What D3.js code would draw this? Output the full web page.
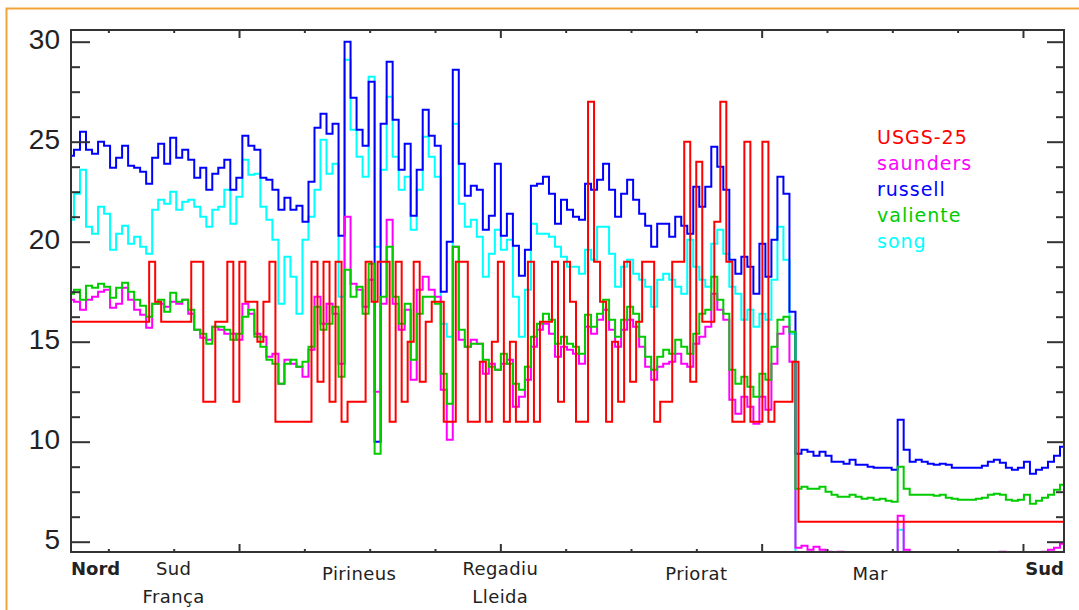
<!DOCTYPE html>
<html>
<head>
<meta charset="utf-8">
<script src="https://cdn.jsdelivr.net/npm/d3@7"></script>
<style>
  body { margin: 0; background: #fff; }
  svg text { fill: #222; }
</style>
</head>
<body>
<svg id="chart" width="1079" height="610"></svg>
<script>
// samples along the transect (one every ~6 px)
const usgs = [
  16,16,16,16,16,16,16,16,16,16,16,16,16,19,17,16,16,16,16,16,19,19,12,12,16,16,19,12,19,17,17,15,17,19,11,11,11,11,11,
  11,19,13,19,12,19,11,12,12,12,19,17,19,19,11,19,12,15,19,13,16,17,17,11,11,19,19,11,11,14,11,15,19,11,15,11,11,19,11,16,
  16,19,12,19,17,11,11,27,19,17,11,15,12,19,13,16,19,19,11,12,12,19,19,25,13,24,16,16,21,27,19,11,11,25,11,11,25,11,12,12,12,14,
  6,6,6,6,6,6,6,6,6,6,6,6,6,6,6,6,6,6,6,6,6,6,6,6,6,6,6,6,6,6,6,6,6,6,6,6,6,6,6,6,6,6,6,6,6
];
const saunders = [
  17.1,17.0,16.6,17.1,17.25,17.5,17.6,16.7,16.9,17.7,17.1,16.6,16.35,15.7,16.9,16.9,16.75,17.0,16.9,17.1,16.4,15.6,15.2,15.1,15.75,15.6,15.4,15.4,15.1,16.9,16.4,15.4,15.25,14.25,14.4,12.9,14.1,13.9,13.75,
  13.25,14.6,17.25,15.9,16.9,16.4,13.9,21.25,17.9,17.6,16.75,18.1,12.5,16.9,21.1,16.9,15.6,16.6,13.1,17.6,18.25,17.6,17.25,12.6,10.1,19.75,15.1,14.75,15.1,14.9,13.4,13.9,13.6,13.9,14.1,11.75,12.25,13.1,14.75,15.6,
  15.9,15.4,14.25,14.75,14.6,14.4,13.9,15.75,15.4,16.1,16.6,15.6,14.75,15.6,16.1,15.75,14.75,13.75,13.1,13.75,13.9,14.0,14.4,13.9,13.75,14.9,15.25,15.75,17.4,16.6,16.1,12.1,11.4,12.25,11.75,10.9,12.25,11.6,13.9,15.4,15.75,14.0,
  4.7,4.8,4.6,4.75,4.6, 4.5,4.4,4.5,4.3,4.3, 4.3,4.2,4.3,4.3,4.3, 4.3,4.4,6.3,4.6,4.4, 4.3,4.3,4.3,4.2,4.3,
  4.3,4.3,4.3,4.3,4.3, 4.3,4.2,4.3,4.4,4.5, 4.3,4.3,4.3,4.2,4.3, 4.4,4.5,4.6,4.7,4.9
];
const russell = [
  24.3,24.6,25.5,24.6,24.4,25.0,24.8,23.7,24.2,24.8,23.8,23.7,23.5,22.9,24.2,24.9,23.9,25.2,24.2,24.6,24.1,23.2,23.7,22.6,23.4,23.7,24.1,22.6,23.2,25.3,24.8,24.6,23.2,23.1,22.6,21.6,22.2,21.6,21.8,
  21.0,23.0,25.7,26.4,25.4,25.9,20.3,30.0,27.2,25.6,24.8,28.0,10.0,25.9,29.0,26.1,23.6,24.9,21.3,23.6,26.6,25.3,24.8,17.5,20.0,28.6,23.9,22.3,22.8,22.6,20.6,21.3,23.9,20.3,21.4,19.8,18.3,19.6,22.8,22.9,
  23.25,22.4,20.9,22.1,21.6,21.25,21.1,22.9,22.6,23.1,23.9,22.6,21.25,22.4,23.1,22.1,21.4,20.8,19.75,20.9,20.9,20.25,21.25,20.8,20.4,22.75,21.75,22.75,24.75,23.75,22.6,19.1,18.4,19.25,18.75,17.4,19.9,18.25,20.1,23.25,22.4,16.5,
  9.4,9.6,9.5,9.3,9.5, 9.3,9.0,9.0,8.9,9.1, 8.85,8.85,8.75,8.7,8.7, 8.7,8.6,11.1,9.6,9.0, 9.1,9.0,8.9,8.85,8.9,
  8.85,8.7,8.7,8.7,8.7, 8.7,8.8,9.0,9.1,8.95, 8.7,8.6,8.7,9.0,8.4, 8.6,8.7,9.0,9.3,9.75
];
const valiente = [
  17.4,17.6,17.1,17.8,17.7,17.9,17.75,17.2,17.7,17.95,17.5,17.1,16.8,16.25,16.9,17.1,16.5,17.45,17.0,17.1,16.6,15.6,15.4,14.9,15.75,15.75,15.6,15.1,15.4,16.25,16.6,15.25,14.75,14.1,13.9,12.9,13.9,14.1,13.75,
  14.0,14.75,16.75,15.6,15.9,16.75,13.25,18.6,17.25,17.75,16.4,18.9,9.4,17.25,19.75,17.25,15.9,16.9,14.1,16.4,17.25,17.25,16.9,13.4,11.9,19.75,15.6,14.75,14.9,14.9,14.1,13.75,13.6,14.4,13.9,12.9,12.6,13.75,15.25,15.9,
  16.4,16.1,14.9,15.25,14.9,14.75,14.4,16.35,15.75,16.4,17.1,16.1,15.25,16.1,16.75,16.4,15.25,14.25,13.6,14.25,14.6,14.4,15.1,14.75,14.4,15.4,16.4,16.6,18.25,17.1,16.4,13.6,12.9,13.25,12.75,12.25,13.4,13.1,14.75,16.1,16.25,15.5,
  7.65,7.75,7.65,7.65,7.75, 7.5,7.35,7.25,7.25,7.35, 7.25,7.15,7.2,7.1,7.15, 7.05,7.0,8.75,7.65,7.35, 7.35,7.35,7.35,7.3,7.35,
  7.2,7.15,7.1,7.1,7.1, 7.15,7.2,7.35,7.4,7.35, 7.1,7.05,7.1,7.35,6.9, 7.05,7.2,7.35,7.6,7.85
];
const song = [
  21.1,22.4,23.6,20.75,20.4,21.75,21.4,19.6,20.4,20.8,19.9,20.25,19.75,19.4,21.6,22.1,21.9,22.5,21.6,22.0,22.1,21.75,21.25,20.75,21.6,21.75,22.6,20.9,22.25,24.1,23.35,23.4,21.75,21.1,20.1,16.9,19.25,18.25,16.4,
  20.1,21.25,22.6,25.1,23.4,23.9,17.25,29.1,25.6,24.25,23.25,28.25,19.75,23.6,27.25,24.25,22.6,23.25,20.6,22.6,25.25,24.25,23.25,15.9,15.25,25.9,21.9,20.75,21.1,20.25,18.25,19.4,20.6,19.6,20.1,17.25,15.25,17.6,20.9,20.4,
  20.4,20.25,19.75,19.25,18.75,18.75,18.4,19.6,19.1,20.75,20.75,19.4,17.75,18.75,19.1,18.4,18.1,17.75,16.75,18.1,18.4,18.1,17.75,17.4,20.1,18.75,18.1,17.75,19.9,20.6,19.4,17.75,17.4,16.1,16.6,15.75,16.4,16.1,18.1,20.75,19.1,15.4,
  4.2,4.3,4.2,4.2,4.1, 4.2,4.2,4.1,4.2,4.2, 4.2,4.1,4.2,4.2,4.2, 4.2,4.3,5.6,4.3,4.2, 4.2,4.2,4.1,4.2,4.2,
  4.2,4.2,4.1,4.2,4.2, 4.2,4.2,4.2,4.1,4.2, 4.2,4.2,4.2,4.2,4.2, 4.2,4.2,4.3,4.3,4.4
];

const seriesNames = ["USGS-25", "saunders", "russell", "valiente", "song"];
const seriesColors = ["#ff0000", "#ff00ff", "#0000ff", "#00cc00", "#00ffff"];
const seriesData = [usgs, saunders, russell, valiente, song];

// region names under the x axis (positions in axis units)
const regionLabels = [["Nord"], ["Sud", "França"], ["Pirineus"], ["Regadiu", "Lleida"], ["Priorat"], ["Mar"], ["Sud"]];
const regionPos = [357, 750, 1460, 2000, 2750, 3415, 4157];

const yMajor = [5, 10, 15, 20, 25, 30];

const svg = d3.select("#chart");
const pLeft = 71, pRight = 1064, pTop = 30, pBottom = 552;

const x = d3.scaleLinear().domain([0, usgs.length - 1]).range([pLeft, 1063]);
const xt = d3.scaleLinear().domain([357, 4157]).range([pLeft, pRight]);
const y = d3.scaleLinear().domain([4.485, 30.585]).range([pBottom, pTop]);

// orange frame
svg.append("path")
  .attr("d", "M6.5,610V8.5H1079")
  .attr("fill", "none").attr("stroke", "#f2a43a").attr("stroke-width", 2);

svg.append("clipPath").attr("id", "plot")
  .append("rect").attr("x", pLeft).attr("y", pTop)
  .attr("width", pRight - pLeft).attr("height", pBottom - pTop);

const g = svg.append("g").attr("clip-path", "url(#plot)");

// stair-stepped traces, like the original plot
const drawOrder = [4, 2, 1, 3, 0];
drawOrder.forEach(k => {
  const line = d3.line()
    .x((d, i) => x(i))
    .y(d => y(d))
    .curve(k === 0 ? d3.curveStepAfter : d3.curveStep);
  g.append("path")
    .datum(seriesData[k])
    .attr("fill", "none")
    .attr("stroke", seriesColors[k])
    .attr("stroke-width", 2)
    .attr("d", line);
});

// axes
const minorY = d3.range(5, 30.1, 1.25).filter(v => v % 5 !== 0);
const minorX = d3.range(500, 4157, 250).filter(v => v % 1000 !== 0);
const majorX = [1000, 2000, 3000, 4000];

function strip(sel) { sel.select(".domain").remove(); sel.selectAll("line").attr("stroke", "#333").attr("stroke-width", 2); }

svg.append("g").attr("transform", `translate(${pLeft},0)`)
  .call(d3.axisLeft(y).tickValues(minorY).tickSize(-9).tickFormat(""))
  .call(strip);
svg.append("g").attr("transform", `translate(${pLeft},0)`)
  .call(d3.axisLeft(y).tickValues(yMajor).tickSize(-19).tickPadding(11).tickFormat(d3.format("d")))
  .call(strip)
  .call(a => a.selectAll("text").attr("font-family", "Liberation Sans, Arial, sans-serif")
    .attr("font-size", 28).attr("fill", "#333").attr("dy", "0.26em"));
svg.append("g").attr("transform", `translate(${pRight},0)`)
  .call(d3.axisRight(y).tickValues(minorY).tickSize(-8).tickFormat(""))
  .call(strip);
svg.append("g").attr("transform", `translate(${pRight},0)`)
  .call(d3.axisRight(y).tickValues(yMajor).tickSize(-17).tickFormat(""))
  .call(strip);

[[d3.axisBottom, pBottom], [d3.axisTop, pTop]].forEach(([ax, pos]) => {
  svg.append("g").attr("transform", `translate(0,${pos})`)
    .call(ax(xt).tickValues(minorX).tickSize(-3).tickFormat(""))
    .call(strip);
  svg.append("g").attr("transform", `translate(0,${pos})`)
    .call(ax(xt).tickValues(majorX).tickSize(-8).tickFormat(""))
    .call(strip);
});

svg.append("rect")
  .attr("x", pLeft).attr("y", pTop)
  .attr("width", pRight - pLeft).attr("height", pBottom - pTop)
  .attr("fill", "none").attr("stroke", "#333").attr("stroke-width", 2);

// region labels
regionLabels.forEach((lines, i) => {
  const first = i === 0, last = i === regionLabels.length - 1;
  const single = lines.length === 1 && !first && !last;
  const t = svg.append("text")
    .attr("x", xt(regionPos[i]))
    .attr("y", single ? 580 : 575)
    .attr("text-anchor", first ? "start" : last ? "end" : "middle")
    .attr("font-family", "DejaVu Sans, sans-serif")
    .attr("font-size", 18)
    .attr("font-weight", first || last ? "bold" : "normal")
    .attr("letter-spacing", first || last ? 0 : 0.4);
  lines.forEach((s, j) => {
    t.append("tspan").attr("x", xt(regionPos[i])).attr("dy", j === 0 ? 0 : 27.5).text(s);
  });
});

// legend
svg.append("g").selectAll("text")
  .data(seriesNames)
  .join("text")
  .attr("x", 877)
  .attr("y", (d, i) => 144 + i * 26)
  .attr("font-family", "DejaVu Sans, sans-serif")
  .attr("font-size", 19)
  .attr("letter-spacing", 1)
  .style("fill", (d, i) => seriesColors[i])
  .text(d => d);
</script>
</body>
</html>
